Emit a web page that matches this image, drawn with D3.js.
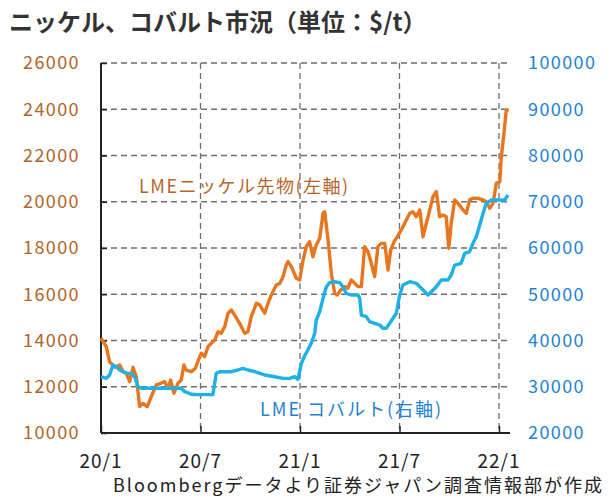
<!DOCTYPE html>
<meta charset="utf-8">
<style>
body {
  margin: 0;
  background: #fff;
}
svg text {
  font-family: "Noto Sans CJK JP", sans-serif;
}
.grid line {
  stroke: #6e6e6e;
  stroke-width: 1.3px;
  stroke-dasharray: 6,4;
}
.line {
  fill: none;
  stroke-width: 3.4px;
  stroke-linejoin: round;
}
</style>
<body>
<svg width="616" height="500"></svg>
<script src="https://d3js.org/d3.v7.min.js"></script>
<script>
// months since 2020/1 (0 = 20/1, 24 = 22/1)
var xTicks = [0, 6, 12, 18, 24];
var xTickLabels = ["20/1", "20/7", "21/1", "21/7", "22/1"];
var leftTicks = [10000, 12000, 14000, 16000, 18000, 20000, 22000, 24000, 26000];
var rightTicks = [20000, 30000, 40000, 50000, 60000, 70000, 80000, 90000, 100000];

// LME nickel futures ($/t, left axis)
var nickelMonths = [0, 0.32, 0.52, 0.83, 1.13, 1.33, 1.53, 1.73, 1.93, 2.13, 2.33, 2.53, 2.79, 3.03, 3.33, 3.6, 3.84, 4.04, 4.2, 4.4,
  4.64, 4.84, 5.0, 5.14, 5.45, 5.69, 5.95, 6.05, 6.25, 6.45, 6.65, 6.86, 7.06, 7.25, 7.46, 7.66, 7.86, 8.06, 8.36, 8.67,
  8.86, 9.06, 9.37, 9.57, 9.87, 10.07, 10.27, 10.57, 10.78, 10.98, 11.17, 11.28, 11.48, 11.78, 11.98, 12.18, 12.38, 12.58, 12.78, 12.98,
  13.19, 13.39, 13.49, 13.69, 13.89, 14.09, 14.25, 14.45, 14.7, 14.89, 15.09, 15.3, 15.5, 15.7, 15.9, 16.1, 16.3, 16.5, 16.7, 16.9,
  17.11, 17.31, 17.47, 17.67, 17.87, 18.11, 18.31, 18.62, 18.81, 19.01, 19.22, 19.42, 19.62, 19.82, 20.02, 20.22, 20.42, 20.62, 20.82, 20.97,
  21.12, 21.33, 21.53, 21.83, 22.03, 22.23, 22.43, 22.73, 23.04, 23.23, 23.44, 23.64, 23.84, 24.05, 24.14, 24.3, 24.44, 24.59];
var nickelValues = [14100, 13730, 13080, 12840, 12940, 12650, 12580, 12220, 12840, 12430, 11140, 11280, 11140, 11570, 12080, 12150, 12220, 11930, 12290, 11720,
  12150, 12290, 12940, 12720, 12650, 12800, 13300, 13450, 13300, 13730, 13880, 14020, 14380, 14310, 14600, 15180, 15320, 15100, 14740, 14310,
  14380, 15030, 15610, 15540, 15180, 15610, 15970, 16400, 16470, 16760, 17265, 17410, 17190, 16690, 16620, 17450, 18060, 18270, 17620, 18130,
  18420, 19500, 19570, 18350, 16900, 16040, 15970, 16180, 16330, 16260, 16620, 16470, 16330, 16330, 18060, 17840, 17340, 16760, 18060, 18200,
  18200, 17050, 17910, 18270, 18490, 18780, 19070, 19500, 19570, 19350, 19640, 18490, 19070, 19640, 20220, 20440, 19350, 19430, 19350, 17990,
  19070, 20080, 19930, 19640, 19500, 20080, 20150, 20150, 20080, 20000, 19720, 19930, 20800, 20870, 21950, 22960, 23970, 23970];

// LME cobalt ($/t, right axis)
var cobaltMonths = [0, 0.32, 0.52, 0.72, 0.92, 1.13, 1.33, 1.53, 1.83, 2.03, 2.23, 2.43, 4.84, 5.05, 5.45, 5.85, 6.75, 6.95, 7.16, 7.86,
  8.26, 8.56, 8.86, 9.27, 9.87, 10.47, 10.98, 11.38, 11.68, 11.88, 12.08, 12.28, 12.48, 12.68, 12.89, 12.98, 13.19, 13.39, 13.59, 13.79,
  14.09, 14.39, 14.59, 14.79, 15.09, 15.5, 15.6, 15.7, 16.0, 16.2, 16.5, 16.81, 17.0, 17.2, 17.41, 17.61, 17.81, 18.01, 18.21, 18.62,
  19.01, 19.32, 19.72, 19.92, 20.22, 20.52, 20.92, 21.12, 21.33, 21.72, 21.93, 22.23, 22.43, 22.63, 22.84, 23.04, 23.23, 23.54, 24.34, 24.54];
var cobaltValues = [32170, 31820, 32540, 34700, 34330, 33620, 33250, 32900, 32900, 32170, 30010, 29660, 29660, 28930, 28370, 28300, 28300, 32900, 33250, 33250,
  33620, 33990, 33620, 33250, 32540, 32170, 31820, 31820, 32170, 31610, 35000, 36700, 38000, 39390, 41560, 44430, 46230, 49120, 51630, 52500,
  52710, 52500, 51630, 50200, 49840, 49840, 49120, 45510, 45150, 44060, 43720, 43350, 42640, 42640, 43720, 44800, 45880, 49840, 52000, 52710,
  52360, 51280, 49840, 50550, 51630, 53080, 53080, 54160, 56320, 56690, 58850, 59200, 61010, 62440, 64970, 67510, 69660, 70370, 70370, 71460];

var nickel = nickelMonths.map(function(m, i) { return {m: m, v: nickelValues[i]}; });
var cobalt = cobaltMonths.map(function(m, i) { return {m: m, v: cobaltValues[i]}; });

var svg = d3.select("svg"),
    plotLeft = 101, plotRight = 510, plotTop = 63, plotBottom = 433;

var x = d3.scaleLinear().domain([0, 24]).range([plotLeft, 499]),
    yL = d3.scaleLinear().domain([10000, 26000]).range([plotBottom, plotTop]),
    yR = d3.scaleLinear().domain([20000, 100000]).range([plotBottom, plotTop]);

// title
svg.append("text")
    .attr("x", 9)
    .attr("y", 31)
    .attr("fill", "#333")
    .style("font-size", "24px")
    .style("font-weight", "bold")
    .text("ニッケル、コバルト市況（単位：$/t）");

// grid
var grid = svg.append("g").attr("class", "grid");
grid.selectAll(".h")
    .data(leftTicks.slice(1))
    .enter().append("line")
      .attr("x1", plotLeft).attr("x2", plotRight)
      .attr("y1", function(d) { return yL(d); })
      .attr("y2", function(d) { return yL(d); });
grid.selectAll(".v")
    .data(xTicks.slice(1))
    .enter().append("line")
      .attr("x1", function(d) { return x(d); })
      .attr("x2", function(d) { return x(d); })
      .attr("y1", plotTop).attr("y2", plotBottom);

// axes
var axL = svg.append("g")
    .attr("transform", "translate(" + plotLeft + ",0)")
    .call(d3.axisRight(yL).tickValues(leftTicks).tickSize(6).tickFormat(""));
axL.select(".domain").attr("d", "M0," + plotTop + "V" + plotBottom).attr("stroke", "#222").attr("stroke-width", 2);
axL.selectAll(".tick line").attr("stroke", "#222").attr("stroke-width", 1.5);

var axB = svg.append("g")
    .attr("transform", "translate(0," + plotBottom + ")")
    .call(d3.axisTop(x).tickValues(xTicks).tickSize(7).tickFormat(""));
axB.select(".domain").attr("d", "M" + plotLeft + ",0H" + plotRight).attr("stroke", "#222").attr("stroke-width", 2);
axB.selectAll(".tick line").attr("stroke", "#222").attr("stroke-width", 1.5);

// tick labels
svg.append("g").selectAll("text")
    .data(leftTicks)
    .enter().append("text")
      .attr("x", 80)
      .attr("y", function(d) { return yL(d); })
      .attr("dy", "0.36em")
      .attr("text-anchor", "end")
      .attr("fill", "#b0652c")
      .style("font-size", "18px")
      .style("letter-spacing", "1.4px")
      .text(function(d) { return d; });

svg.append("g").selectAll("text")
    .data(rightTicks)
    .enter().append("text")
      .attr("x", 528)
      .attr("y", function(d) { return yR(d); })
      .attr("dy", "0.36em")
      .attr("fill", "#1e82d2")
      .style("font-size", "18px")
      .style("letter-spacing", "1.4px")
      .text(function(d) { return d; });

svg.append("g").selectAll("text")
    .data(xTicks)
    .enter().append("text")
      .attr("x", function(d) { return x(d); })
      .attr("y", 468)
      .attr("text-anchor", "middle")
      .attr("fill", "#222")
      .style("font-size", "19px")
      .style("letter-spacing", "1px")
      .text(function(d, i) { return xTickLabels[i]; });

// lines
svg.append("path")
    .datum(nickel)
    .attr("class", "line")
    .attr("stroke", "#e8761f")
    .attr("d", d3.line().x(function(d) { return x(d.m); }).y(function(d) { return yL(d.v); }));

svg.append("path")
    .datum(cobalt)
    .attr("class", "line")
    .attr("stroke", "#1db1e8")
    .attr("d", d3.line().x(function(d) { return x(d.m); }).y(function(d) { return yR(d.v); }));

// series labels
svg.append("text")
    .attr("x", 139)
    .attr("y", 193)
    .attr("fill", "#b8652a")
    .style("font-size", "18px")
    .style("letter-spacing", "1.5px")
    .text("LMEニッケル先物(左軸)");

svg.append("text")
    .attr("x", 260)
    .attr("y", 416)
    .attr("fill", "#1e82d2")
    .style("font-size", "18px")
    .style("letter-spacing", "2px")
    .text("LME コバルト(右軸)");

// source
svg.append("text")
    .attr("x", 113)
    .attr("y", 492)
    .attr("fill", "#222")
    .style("font-size", "18px")
    .style("letter-spacing", "2px")
    .text("Bloombergデータより証券ジャパン調査情報部が作成");
</script>
</body>
